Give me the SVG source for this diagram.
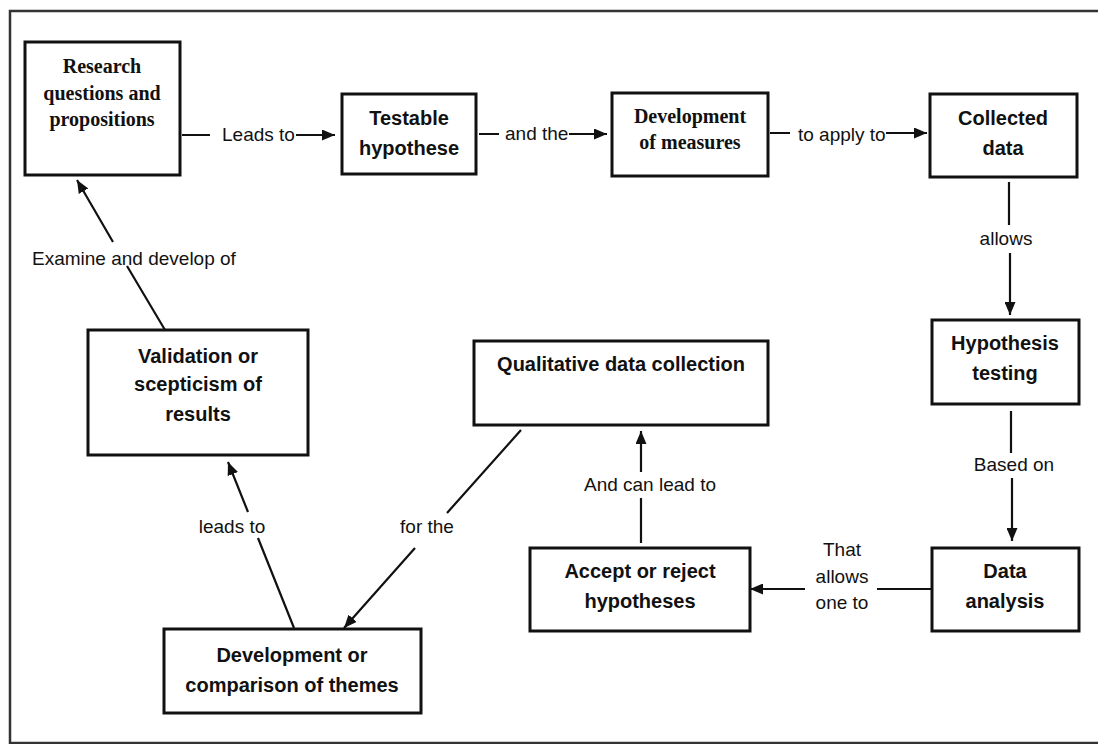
<svg xmlns="http://www.w3.org/2000/svg" width="1098" height="744" viewBox="0 0 1098 744">
  <style>
    .frame { fill: none; stroke: #333; stroke-width: 2.5; }
    .box { fill: #fff; stroke: #111; stroke-width: 3; }
    .serif { font-family: "Liberation Serif", "Times New Roman", serif; font-weight: bold; font-size: 20px; fill: #111; text-anchor: middle; }
    .sans { font-family: "Liberation Sans", Arial, sans-serif; font-weight: bold; font-size: 20px; fill: #111; text-anchor: middle; }
    .lbl { font-family: "Liberation Sans", Arial, sans-serif; font-size: 19px; fill: #111; }
    .mid { text-anchor: middle; }
    .link { fill: none; stroke: #111; stroke-width: 2.2; }
  </style>
  <defs>
    <marker id="arrow" markerUnits="userSpaceOnUse" markerWidth="13" markerHeight="11" refX="13" refY="5.5" orient="auto">
      <path d="M0,0 L13,5.5 L0,11 z" fill="#111"/>
    </marker>
  </defs>

  <rect width="1098" height="744" fill="#fff"/>
  <rect class="frame" x="10" y="11" width="1100" height="732"/>

  <!-- connectors -->
  <g id="connectors">
    <path class="link" d="M182,135 H210 M296,135 H335" marker-end="url(#arrow)"/>
    <path class="link" d="M479,134 H499 M569,134 H607" marker-end="url(#arrow)"/>
    <path class="link" d="M770,133 H790 M886,133 H927" marker-end="url(#arrow)"/>
    <path class="link" d="M1009,182 V225 M1010,253 V315" marker-end="url(#arrow)"/>
    <path class="link" d="M1011,411 V453 M1012,478 V541" marker-end="url(#arrow)"/>
    <path class="link" d="M932,589 H877 M805,589 H750" marker-end="url(#arrow)"/>
    <path class="link" d="M641,543 V498 M641,472 V431" marker-end="url(#arrow)"/>
    <path class="link" d="M521,430 L447,513 M415,548 L344,628" marker-end="url(#arrow)"/>
    <path class="link" d="M294,628 L258,538 M248,512 L228,462" marker-end="url(#arrow)"/>
    <path class="link" d="M165,330 L127,266 M113,242 L77,180" marker-end="url(#arrow)"/>

    <text class="lbl" x="222" y="141">Leads to</text>
    <text class="lbl" x="505" y="140">and the</text>
    <text class="lbl" x="798" y="141">to apply to</text>
    <text class="lbl mid" x="1006" y="245">allows</text>
    <text class="lbl mid" x="1014" y="471">Based on</text>
    <text class="lbl mid" x="842" y="556">That</text>
    <text class="lbl mid" x="842" y="583">allows</text>
    <text class="lbl mid" x="842" y="609">one to</text>
    <text class="lbl mid" x="650" y="491">And can lead to</text>
    <text class="lbl mid" x="427" y="533">for the</text>
    <text class="lbl mid" x="232" y="533">leads to</text>
    <text class="lbl" x="32" y="265">Examine and develop of</text>
  </g>

  <!-- nodes -->
  <g id="research">
    <rect class="box" x="25" y="42" width="155" height="133"/>
    <text class="serif" x="102" y="73">Research</text>
    <text class="serif" x="102" y="100">questions and</text>
    <text class="serif" x="102" y="126">propositions</text>
  </g>
  <g id="testable">
    <rect class="box" x="342" y="94" width="134" height="80"/>
    <text class="sans" x="409" y="125">Testable</text>
    <text class="sans" x="409" y="155">hypothese</text>
  </g>
  <g id="measures">
    <rect class="box" x="612" y="93" width="156" height="83"/>
    <text class="serif" x="690" y="123">Development</text>
    <text class="serif" x="690" y="149">of measures</text>
  </g>
  <g id="collected">
    <rect class="box" x="930" y="94" width="147" height="83"/>
    <text class="sans" x="1003" y="125">Collected</text>
    <text class="sans" x="1003" y="155">data</text>
  </g>
  <g id="hypothesis-testing">
    <rect class="box" x="932" y="320" width="147" height="84"/>
    <text class="sans" x="1005" y="350">Hypothesis</text>
    <text class="sans" x="1005" y="380">testing</text>
  </g>
  <g id="data-analysis">
    <rect class="box" x="932" y="548" width="147" height="83"/>
    <text class="sans" x="1005" y="578">Data</text>
    <text class="sans" x="1005" y="608">analysis</text>
  </g>
  <g id="accept-reject">
    <rect class="box" x="530" y="548" width="220" height="83"/>
    <text class="sans" x="640" y="578">Accept or reject</text>
    <text class="sans" x="640" y="608">hypotheses</text>
  </g>
  <g id="qualitative">
    <rect class="box" x="474" y="341" width="294" height="84"/>
    <text class="sans" x="621" y="371">Qualitative data collection</text>
  </g>
  <g id="themes">
    <rect class="box" x="164" y="629" width="257" height="84"/>
    <text class="sans" x="292" y="662">Development or</text>
    <text class="sans" x="292" y="692">comparison of themes</text>
  </g>
  <g id="validation">
    <rect class="box" x="88" y="330" width="220" height="125"/>
    <text class="sans" x="198" y="363">Validation or</text>
    <text class="sans" x="198" y="391">scepticism of</text>
    <text class="sans" x="198" y="421">results</text>
  </g>
</svg>
